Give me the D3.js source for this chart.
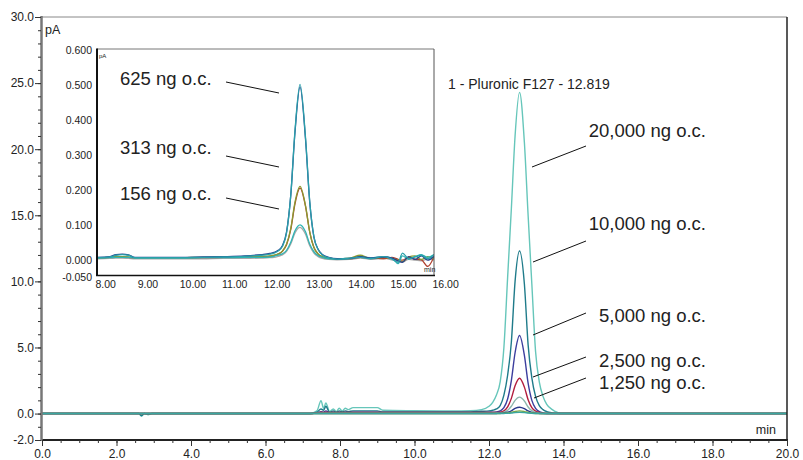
<!DOCTYPE html>
<html>

<head>
    <meta charset="utf-8">
    <title>Pluronic F127</title>
    <style>
        body { margin: 0; background: #fff; }
        text { font-family: "Liberation Sans", Arial, sans-serif; fill: #222; }
    </style>
</head>

<body>
    <script src="https://cdn.jsdelivr.net/npm/d3@7"></script>
    <script>
    // main chromatogram: retention time (min) shared by all traces
    let mainTimes = [0, 2.6, 2.67, 2.75, 2.85, 2.95,
        7.2, 7.38, 7.49, 7.56, 7.62, 7.72, 7.82, 7.9, 7.98, 8.06, 8.14, 8.22, 8.35,
        9.0, 9.15, 10.0, 11.0, 11.5, 11.8,
        12.0, 12.1, 12.2, 12.3, 12.4, 12.5, 12.6, 12.7, 12.82,
        12.95, 13.05, 13.15, 13.25, 13.35, 13.45, 13.55, 13.7, 13.9, 20.0];

    // signal in pA, one array per load
    let pA20000 = [0, 0, -0.2, 0, -0.1, 0,
        0, 0.2, 0.97, 0.4, 0.8, 0.15, 0.35, 0.15, 0.4, 0.2, 0.4, 0.3, 0.45,
        0.45, 0.25, 0.22, 0.2, 0.22, 0.3,
        0.55, 0.85, 1.4, 2.4, 5.0, 10.3, 15.5, 21.0, 24.3,
        20.5, 15.0, 9.8, 4.7, 2.4, 1.3, 0.7, 0.3, 0.05, 0];
    let pA10000 = [0, 0, -0.15, 0, -0.05, 0,
        0, 0.1, 0.35, 0.25, 0.55, 0.1, 0.2, 0.1, 0.2, 0.12, 0.2, 0.15, 0.2,
        0.2, 0.12, 0.12, 0.12, 0.13, 0.17,
        0.2, 0.25, 0.35, 0.6, 1.4, 2.9, 5.4, 10.0, 12.3,
        9.8, 5.2, 2.7, 1.3, 0.6, 0.3, 0.15, 0.05, 0, 0];
    let pA5000 = [0, 0, 0, 0, 0, 0,
        0, 0.05, 0.15, 0.1, 0.2, 0.05, 0.1, 0.05, 0.1, 0.05, 0.1, 0.08, 0.1,
        0.1, 0.08, 0.08, 0.08, 0.08, 0.08,
        0.1, 0.1, 0.12, 0.2, 0.45, 1.1, 2.5, 4.6, 5.9,
        4.4, 2.3, 1.0, 0.4, 0.15, 0.05, 0, 0, 0, 0];
    let pA2500 = [0, 0, 0, 0, 0, 0,
        0, 0.05, 0.1, 0.08, 0.1, 0.08, 0.08, 0.08, 0.08, 0.08, 0.08, 0.08, 0.08,
        0.08, 0.08, 0.08, 0.08, 0.08, 0.08,
        0.08, 0.08, 0.08, 0.1, 0.2, 0.5, 1.15, 2.1, 2.67,
        2.0, 1.05, 0.45, 0.18, 0.08, 0.02, 0, 0, 0, 0];
    let pA1250 = [0, 0, 0, 0, 0, 0,
        0, 0.03, 0.03, 0.03, 0.03, 0.03, 0.03, 0.03, 0.03, 0.03, 0.03, 0.03, 0.03,
        0.03, 0.03, 0.03, 0.03, 0.03, 0.03,
        0.03, 0.03, 0.04, 0.05, 0.1, 0.25, 0.55, 1.0, 1.24,
        0.95, 0.5, 0.22, 0.08, 0.03, 0, 0, 0, 0, 0];
    let pA625 = [0, 0, 0, 0, 0, 0,
        0, 0, 0, 0, 0, 0, 0, 0, 0, 0, 0, 0, 0,
        0, 0, 0, 0, 0, 0,
        0, 0, 0.01, 0.02, 0.05, 0.1, 0.21, 0.39, 0.48,
        0.37, 0.2, 0.09, 0.03, 0.01, 0, 0, 0, 0, 0];
    let pA313 = [0, 0, 0, 0, 0, 0,
        0, 0, 0, 0, 0, 0, 0, 0, 0, 0, 0, 0, 0,
        0, 0, 0, 0, 0, 0,
        0, 0, 0, 0.01, 0.02, 0.04, 0.09, 0.16, 0.2,
        0.15, 0.08, 0.04, 0.01, 0, 0, 0, 0, 0, 0];
    let pA156 = [0, 0, 0, 0, 0, 0,
        0, 0, 0, 0, 0, 0, 0, 0, 0, 0, 0, 0, 0,
        0, 0, 0, 0, 0, 0,
        0, 0, 0, 0, 0.01, 0.02, 0.045, 0.08, 0.1,
        0.075, 0.04, 0.02, 0.005, 0, 0, 0, 0, 0, 0];

    // inset: zoom on the low loads (8 - 16 min)
    let insetTimes = [8.0, 8.3, 8.45, 8.6, 8.75, 8.9,
        9.5, 10.0, 10.5, 11.0, 11.5, 11.9,
        12.1, 12.2, 12.3, 12.4, 12.5, 12.6, 12.7, 12.82,
        12.95, 13.05, 13.15, 13.25, 13.35, 13.5, 13.7,
        14.0, 14.25, 14.5, 14.8, 15.0, 15.15, 15.25, 15.4, 15.55, 15.7, 15.85, 16.0];
    let in625a = [0.002, 0.004, 0.01, 0.011, 0.009, 0.002,
        0.002, 0.002, 0.003, 0.004, 0.006, 0.01,
        0.013, 0.016, 0.022, 0.035, 0.075, 0.18, 0.36, 0.49,
        0.34, 0.16, 0.06, 0.025, 0.01, 0.002, -0.002,
        -0.001, 0.004, 0, 0.003, 0, -0.008, -0.012, 0.004, -0.004, 0.006, -0.006, 0.005];
    let in625b = [0.001, 0.003, 0.008, 0.01, 0.008, 0.001,
        0.001, 0.001, 0.002, 0.003, 0.005, 0.008,
        0.011, 0.014, 0.02, 0.033, 0.072, 0.18, 0.365, 0.497,
        0.345, 0.162, 0.06, 0.024, 0.009, 0.001, -0.003,
        0, 0.002, -0.002, 0.004, -0.003, -0.012, 0.014, -0.002, 0.003, 0.008, -0.002, 0.01];
    let in313a = [0.001, 0.002, 0.004, 0.004, 0.003, 0.001,
        0.001, 0.001, 0.002, 0.002, 0.003, 0.005,
        0.006, 0.008, 0.012, 0.02, 0.04, 0.085, 0.16, 0.205,
        0.15, 0.075, 0.03, 0.012, 0.004, 0, -0.002,
        0, 0.008, -0.001, 0.002, -0.001, -0.006, -0.01, 0.003, 0.006, -0.004, 0.004, -0.002];
    let in313b = [0.001, 0.002, 0.003, 0.003, 0.002, 0.001,
        0.001, 0.001, 0.001, 0.002, 0.003, 0.004,
        0.005, 0.007, 0.011, 0.019, 0.038, 0.082, 0.155, 0.2,
        0.148, 0.074, 0.03, 0.011, 0.003, -0.001, -0.002,
        -0.002, 0.002, 0.001, -0.002, 0.002, -0.004, -0.006, 0.002, -0.003, -0.005, -0.024, 0.004];
    let in156a = [0, 0.001, 0.002, 0.002, 0.002, 0,
        0, 0, 0.001, 0.001, 0.002, 0.002,
        0.003, 0.005, 0.008, 0.012, 0.022, 0.045, 0.078, 0.095,
        0.075, 0.04, 0.018, 0.007, 0.002, -0.002, -0.003,
        -0.002, 0.003, 0.001, 0.004, 0, -0.016, 0.006, -0.003, 0.004, 0.01, 0.002, 0.01];
    let in156b = [-0.002, -0.001, 0, 0, -0.001, -0.002,
        -0.002, -0.002, -0.002, -0.001, -0.001, 0,
        0.001, 0.002, 0.005, 0.009, 0.019, 0.04, 0.072, 0.088,
        0.068, 0.035, 0.014, 0.004, -0.001, -0.004, -0.005,
        -0.004, 0, -0.004, -0.001, -0.005, -0.01, -0.012, -0.004, -0.006, -0.008, -0.003, -0.005];

    let mainTicksY = [30, 25, 20, 15, 10, 5, 0, -2];
    let mainTicksX = [0, 2, 4, 6, 8, 10, 12, 14, 16, 18, 20];
    let insetTicksY = [0.6, 0.5, 0.4, 0.3, 0.2, 0.1, 0, -0.05];
    let insetTicksX = [8, 9, 10, 11, 12, 13, 14, 15, 16];

    let mainSeries = [
        { name: "20,000", values: pA20000, color: "#66c6ba" },
        { name: "10,000", values: pA10000, color: "#1f7b8a" },
        { name: "5,000", values: pA5000, color: "#3c3e9e" },
        { name: "2,500", values: pA2500, color: "#b21d3d" },
        { name: "1,250", values: pA1250, color: "#8db7ad" },
        { name: "625", values: pA625, color: "#2c3a8c" },
        { name: "313", values: pA313, color: "#86a83a" },
        { name: "156", values: pA156, color: "#3aa6a0" }
    ];
    let insetSeries = [
        { values: in156b, color: "#a8a8a8" },
        { values: in313b, color: "#b0402e" },
        { values: in313a, color: "#8a9a30" },
        { values: in156a, color: "#2fb4b4" },
        { values: in625a, color: "#27408f" },
        { values: in625b, color: "#2aa0aa" }
    ];

    let width = 803,
        height = 460;

    let svg = d3.select('body').append('svg').attr('width', width).attr('height', height);

    // ---------- main chart ----------
    let x = d3.scaleLinear().domain([0, 20]).range([42, 787]);
    let y = d3.scaleLinear().domain([-2, 30]).range([440, 17]);

    let mainLine = d3.line()
        .x(function(d) { return x(d[0]); })
        .y(function(d) { return y(d[1]); })
        .curve(d3.curveMonotoneX);

    svg.append("g").selectAll("path")
        .data(mainSeries)
        .enter()
        .append("path")
        .attr("fill", "none")
        .attr("stroke", function(d) { return d.color; })
        .attr("stroke-width", 1.4)
        .attr("d", function(d) {
            return mainLine(mainTimes.map(function(t, i) { return [t, d.values[i]]; }));
        });

    // frame
    svg.append("line").attr("x1", 41).attr("x2", 787).attr("y1", 17).attr("y2", 17)
        .attr("stroke", "#888").attr("stroke-width", 1);
    svg.append("line").attr("x1", 787).attr("x2", 787).attr("y1", 17).attr("y2", 440)
        .attr("stroke", "#222").attr("stroke-width", 1.5);
    svg.append("line").attr("x1", 41).attr("x2", 788).attr("y1", 440).attr("y2", 440)
        .attr("stroke", "#222").attr("stroke-width", 2);
    svg.append("line").attr("x1", 41.5).attr("x2", 41.5).attr("y1", 16).attr("y2", 441)
        .attr("stroke", "#777").attr("stroke-width", 2.5);

    // y axis
    let yAxis = d3.axisLeft(y).tickValues(mainTicksY).tickSize(6).tickPadding(1)
        .tickFormat(function(d) { return d.toFixed(1); });
    let gy = svg.append("g").attr("transform", "translate(41,0)").call(yAxis);
    let yMinor = d3.axisLeft(y).tickValues(d3.range(-2, 31, 1)).tickSize(3).tickFormat("");
    let gy2 = svg.append("g").attr("transform", "translate(41,0)").call(yMinor);

    // x axis
    let xAxis = d3.axisBottom(x).tickValues(mainTicksX).tickSize(6).tickPadding(3)
        .tickFormat(function(d) { return d.toFixed(1); });
    let gx = svg.append("g").attr("transform", "translate(0,440)").call(xAxis);
    let xMinor = d3.axisBottom(x).tickValues(d3.range(0, 20.01, 0.5)).tickSize(3).tickFormat("");
    let gx2 = svg.append("g").attr("transform", "translate(0,440)").call(xMinor);

    [gy, gy2, gx, gx2].forEach(function(g) {
        g.select(".domain").remove();
        g.selectAll(".tick line").attr("stroke", "#333");
        g.selectAll("text").attr("font-size", 12).attr("font-family", "Liberation Sans, Arial, sans-serif").attr("fill", "#222");
    });

    svg.append("text").attr("x", 45).attr("y", 34).attr("font-size", 12.5).text("pA");
    svg.append("text").attr("x", 776).attr("y", 434).attr("font-size", 12.5)
        .attr("text-anchor", "end").text("min");

    svg.append("text").attr("x", 448).attr("y", 89).attr("font-size", 14)
        .text("1 - Pluronic F127 - 12.819");

    // labels of main peaks
    let mainLabels = [
        { text: "20,000 ng o.c.", ty: 137, line: [586, 146, 532, 167] },
        { text: "10,000 ng o.c.", ty: 230, line: [586, 241, 533, 262] },
        { text: "5,000 ng o.c.", ty: 321.5, line: [586, 313, 533, 335] },
        { text: "2,500 ng o.c.", ty: 366.5, line: [586, 357, 533, 377] },
        { text: "1,250 ng o.c.", ty: 389, line: [586, 378, 534, 398] }
    ];
    mainLabels.forEach(function(d) {
        svg.append("text").attr("x", 706).attr("y", d.ty).attr("font-size", 18.5)
            .attr("text-anchor", "end").text(d.text);
        svg.append("line").attr("x1", d.line[0]).attr("y1", d.line[1])
            .attr("x2", d.line[2]).attr("y2", d.line[3])
            .attr("stroke", "#111").attr("stroke-width", 1);
    });

    // ---------- inset ----------
    let ix = d3.scaleLinear().domain([8, 16]).range([97, 434]);
    let iy = d3.scaleLinear().domain([-0.05, 0.6]).range([275.5, 48.5]);

    svg.append("rect").attr("x", 97).attr("y", 49).attr("width", 337).attr("height", 227)
        .attr("fill", "#fff");

    svg.append("defs").append("clipPath").attr("id", "insetClip")
        .append("rect").attr("x", 97).attr("y", 49).attr("width", 337).attr("height", 227);

    let insetLine = d3.line()
        .x(function(d) { return ix(d[0]); })
        .y(function(d) { return iy(d[1]); })
        .curve(d3.curveMonotoneX);

    svg.append("g").attr("clip-path", "url(#insetClip)").selectAll("path")
        .data(insetSeries)
        .enter()
        .append("path")
        .attr("fill", "none")
        .attr("stroke", function(d) { return d.color; })
        .attr("stroke-width", 1.3)
        .attr("d", function(d) {
            return insetLine(insetTimes.map(function(t, i) { return [t, d.values[i]]; }));
        });

    svg.append("line").attr("x1", 97).attr("x2", 434).attr("y1", 49).attr("y2", 49)
        .attr("stroke", "#777").attr("stroke-width", 1);
    svg.append("line").attr("x1", 434).attr("x2", 434).attr("y1", 49).attr("y2", 276)
        .attr("stroke", "#555").attr("stroke-width", 1);
    svg.append("line").attr("x1", 96).attr("x2", 435).attr("y1", 275.5).attr("y2", 275.5)
        .attr("stroke", "#111").attr("stroke-width", 1.5);
    svg.append("line").attr("x1", 97).attr("x2", 97).attr("y1", 48.5).attr("y2", 276)
        .attr("stroke", "#111").attr("stroke-width", 2);

    let iyAxis = d3.axisLeft(iy).tickValues(insetTicksY).tickSize(0).tickPadding(5)
        .tickFormat(function(d) { return d.toFixed(3); });
    let giy = svg.append("g").attr("transform", "translate(97,0)").call(iyAxis);
    giy.selectAll("text").attr("dy", "0.32em").attr("y", 2);

    let ixAxis = d3.axisBottom(ix).tickValues(insetTicksX).tickSize(0).tickPadding(5)
        .tickFormat(function(d) { return d.toFixed(2); });
    let gix = svg.append("g").attr("transform", "translate(0,275.5)").call(ixAxis);
    gix.selectAll("text").attr("text-anchor", "start").attr("x", -2);

    [giy, gix].forEach(function(g) {
        g.select(".domain").remove();
        g.selectAll("text").attr("font-size", 10.5).attr("font-family", "Liberation Sans, Arial, sans-serif").attr("fill", "#222");
    });

    svg.append("text").attr("x", 99).attr("y", 58).attr("font-size", 6).text("pA");
    svg.append("text").attr("x", 424).attr("y", 272).attr("font-size", 7).attr("fill", "#555").text("min");

    let insetLabels = [
        { text: "625 ng o.c.", ty: 85, line: [226, 82, 279, 93] },
        { text: "313 ng o.c.", ty: 154, line: [226, 156, 279, 167] },
        { text: "156 ng o.c.", ty: 200, line: [226, 198, 279, 209] }
    ];
    insetLabels.forEach(function(d) {
        svg.append("text").attr("x", 120).attr("y", d.ty).attr("font-size", 18.5).text(d.text);
        svg.append("line").attr("x1", d.line[0]).attr("y1", d.line[1])
            .attr("x2", d.line[2]).attr("y2", d.line[3])
            .attr("stroke", "#111").attr("stroke-width", 1);
    });
    </script>
</body>

</html>
